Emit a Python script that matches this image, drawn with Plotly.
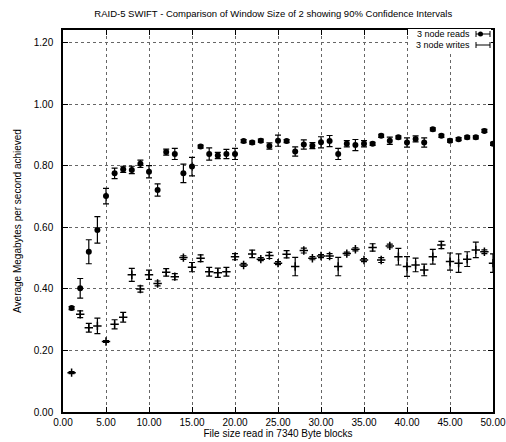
import plotly.graph_objects as go

file_size = list(range(1, 51))

reads = [0.338, 0.402, 0.521, 0.592, 0.702, 0.776, 0.789, 0.787, 0.807, 0.781,
         0.722, 0.845, 0.839, 0.776, 0.798, 0.863, 0.839, 0.834, 0.839, 0.839,
         0.881, 0.876, 0.882, 0.865, 0.882, 0.881, 0.847, 0.870, 0.866, 0.877,
         0.881, 0.839, 0.872, 0.868, 0.872, 0.872, 0.898, 0.882, 0.893, 0.876,
         0.888, 0.876, 0.919, 0.898, 0.882, 0.887, 0.893, 0.893, 0.914, 0.872]
reads_err = [0.005, 0.032, 0.039, 0.043, 0.025, 0.017, 0.010, 0.012, 0.012, 0.020,
             0.020, 0.010, 0.018, 0.030, 0.030, 0.005, 0.020, 0.010, 0.015, 0.018,
             0.005, 0.005, 0.005, 0.010, 0.018, 0.005, 0.015, 0.015, 0.010, 0.018,
             0.018, 0.018, 0.010, 0.018, 0.010, 0.005, 0.005, 0.012, 0.005, 0.015,
             0.010, 0.015, 0.005, 0.005, 0.005, 0.005, 0.005, 0.005, 0.005, 0.005]

writes = [0.128, 0.318, 0.274, 0.280, 0.229, 0.285, 0.308, 0.446, 0.400, 0.446,
          0.418, 0.454, 0.440, 0.502, 0.471, 0.500, 0.456, 0.453, 0.456, 0.505,
          0.478, 0.514, 0.497, 0.509, 0.484, 0.513, 0.473, 0.525, 0.500, 0.507,
          0.507, 0.473, 0.515, 0.529, 0.494, 0.535, 0.494, 0.540, 0.505, 0.473,
          0.478, 0.462, 0.505, 0.543, 0.489, 0.484, 0.497, 0.527, 0.521, 0.484]
writes_err = [0.003, 0.011, 0.014, 0.025, 0.003, 0.015, 0.016, 0.021, 0.010, 0.015,
              0.008, 0.012, 0.010, 0.006, 0.015, 0.011, 0.014, 0.015, 0.014, 0.010,
              0.005, 0.012, 0.005, 0.010, 0.005, 0.012, 0.030, 0.008, 0.005, 0.005,
              0.008, 0.030, 0.005, 0.005, 0.005, 0.012, 0.008, 0.006, 0.027, 0.032,
              0.022, 0.019, 0.024, 0.012, 0.028, 0.030, 0.024, 0.025, 0.006, 0.030]

x_ticks = [0, 5, 10, 15, 20, 25, 30, 35, 40, 45, 50]
y_ticks = [0.0, 0.2, 0.4, 0.6, 0.8, 1.0, 1.2]

FONT = "Liberation Sans, Arial, sans-serif"

fig = go.Figure()
fig.add_trace(go.Scatter(
    x=file_size, y=reads, mode="markers", name="3 node reads",
    marker=dict(symbol="circle", size=6, color="black"),
    error_y=dict(type="data", array=reads_err, color="black", thickness=1.2, width=3),
    showlegend=False))
fig.add_trace(go.Scatter(
    x=file_size, y=writes, mode="markers", name="3 node writes",
    marker=dict(symbol="cross-thin", size=6, color="black", line=dict(width=1.5, color="black")),
    error_y=dict(type="data", array=writes_err, color="black", thickness=1.2, width=3),
    showlegend=False))

axis_common = dict(
    showline=True, linecolor="black", linewidth=1.5, mirror="ticks",
    ticks="inside", ticklen=5, tickcolor="black",
    showgrid=True, gridcolor="#666", griddash="dot", gridwidth=1,
    zeroline=False, tickfont=dict(family=FONT, size=10, color="black"),
    tickformat=".2f")

fig.update_xaxes(range=[0, 50], tickvals=x_ticks, **axis_common,
                 title=dict(text="File size read in 7340 Byte blocks",
                            font=dict(family=FONT, size=10, color="black"), standoff=3))
fig.update_yaxes(range=[0, 1.242], tickvals=y_ticks, **axis_common, ticklabelstandoff=6,
                 title=dict(text="Average Megabytes per second achieved",
                            font=dict(family=FONT, size=10, color="black"), standoff=10))

# gnuplot-style key (text then sample) in the top-right corner
def px_x(p):
    return (p - 63) / 430.0

def px_y(p):
    return (412 - p) / 382.0

key = [("3 node reads", 34, True), ("3 node writes", 45, False)]
shapes = [dict(type="rect", xref="paper", yref="paper", layer="above",
               x0=px_x(408), x1=px_x(491), y0=px_y(51), y1=px_y(29),
               fillcolor="white", line=dict(width=0))]
annotations = []
for label, py, with_marker in key:
    annotations.append(dict(text=label, x=px_x(472), y=px_y(py), xref="paper", yref="paper",
                            xanchor="right", yanchor="middle", showarrow=False,
                            font=dict(family=FONT, size=9, color="black")))
    x0, x1 = px_x(476), px_x(490)
    shapes.append(dict(type="line", xref="paper", yref="paper", x0=x0, x1=x1, layer="above",
                       y0=px_y(py), y1=px_y(py), line=dict(color="black", width=1)))
    for xx in (x0, x1):
        shapes.append(dict(type="line", xref="paper", yref="paper", x0=xx, x1=xx, layer="above",
                           y0=px_y(py - 3), y1=px_y(py + 3), line=dict(color="black", width=1)))
    if with_marker:
        shapes.append(dict(type="circle", xref="paper", yref="paper", layer="above",
                           x0=px_x(478), x1=px_x(483), y0=px_y(py + 2.5), y1=px_y(py - 2.5),
                           fillcolor="black", line=dict(color="black", width=0)))

fig.update_layout(
    width=506, height=442,
    margin=dict(l=63, r=13, t=30, b=30, autoexpand=False),
    paper_bgcolor="white", plot_bgcolor="white",
    title=dict(text="RAID-5 SWIFT - Comparison of Window Size of 2 showing 90% Confidence Intervals",
               x=0.54, xanchor="center", y=1 - 14 / 442, yanchor="middle", yref="container",
               font=dict(family=FONT, size=9.5, color="black")),
    shapes=shapes, annotations=annotations,
)

fig.write_html("out.html")
